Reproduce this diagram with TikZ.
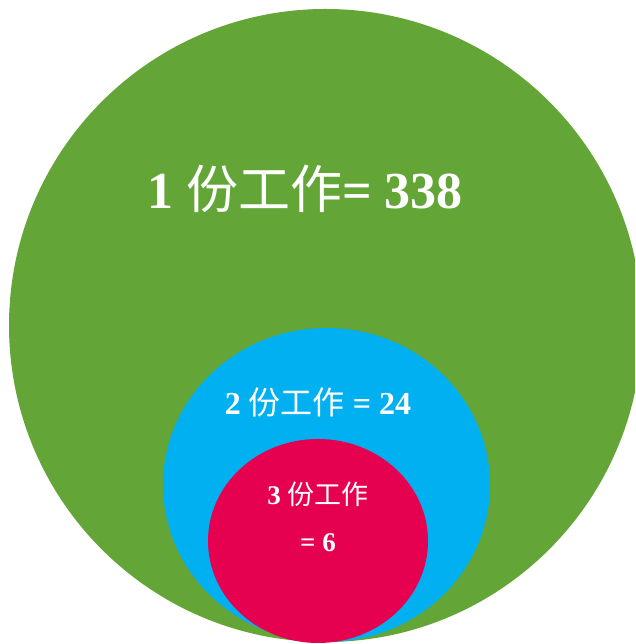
\documentclass[tikz,border=0pt]{standalone}
\usepackage{fontspec}
\setmainfont{Liberation Serif}
\newfontfamily\cjk{Noto Sans CJK SC}
\usetikzlibrary{shapes,positioning}

\begin{document}
\begin{tikzpicture}[x=1pt,y=1pt,blob/.style={ellipse,inner sep=0pt},
    label/.style={text=white,font=\bfseries,inner sep=0pt}]
    \useasboundingbox (0,0) rectangle (635,644);
    \clip (0,0) rectangle (635,644);
    \node[blob,fill={rgb,255:red,99;green,166;blue,55},minimum width=633pt,minimum height=633pt] (one) at (325.5,318.5) {};
    \node[blob,fill={rgb,255:red,0;green,176;blue,240},minimum width=327pt,minimum height=314pt] (two) at (326.5,159) {};
    \node[blob,fill={rgb,255:red,230;green,0;blue,80},minimum width=220pt,minimum height=204pt] (three) at (318,103) {};

    \node[label,font=\bfseries\fontsize{52}{52}\selectfont] (l1) at (305,455) {1 {\cjk\mdseries 份工作}= 338};
    \node[label,font=\bfseries\fontsize{32}{32}\selectfont] (l2) at (318,242) {2 {\cjk\mdseries 份工作} = 24};
    \node[label,font=\bfseries\fontsize{27}{27}\selectfont] (l3) at (318,150) {3 {\cjk\mdseries 份工作}};
    \node[label,font=\bfseries\fontsize{27}{27}\selectfont,below=27pt of l3] (l4) {= 6};
\end{tikzpicture}
\end{document}
